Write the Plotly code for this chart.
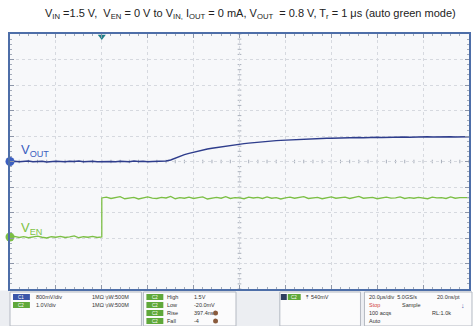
import plotly.graph_objects as go

# ---------------- data (oscilloscope divisions) ----------------
time_div = [round(i * 0.1, 1) for i in range(101)]  # sample instants, 10 horizontal divisions

vout_level = [
    5.00, 5.01, 4.99, 5.00, 5.02, 4.99, 5.00, 5.01, 4.98, 5.00,
    5.01, 5.00, 4.99, 5.01, 5.00, 5.02, 4.99, 5.00, 5.01, 4.99,
    5.00, 5.01, 5.00, 4.99, 5.01, 5.00, 4.99, 5.02, 5.00, 5.01,
    4.99, 5.00, 5.01, 5.00, 5.02, 5.06, 5.14, 5.21, 5.27, 5.32,
    5.37, 5.41, 5.45, 5.49, 5.52, 5.55, 5.58, 5.61, 5.63, 5.66,
    5.68, 5.70, 5.72, 5.74, 5.76, 5.77, 5.79, 5.80, 5.82, 5.83,
    5.84, 5.85, 5.86, 5.87, 5.87, 5.88, 5.89, 5.89, 5.90, 5.91,
    5.91, 5.92, 5.92, 5.93, 5.92, 5.93, 5.94, 5.93, 5.94, 5.94,
    5.95, 5.94, 5.95, 5.95, 5.96, 5.95, 5.96, 5.95, 5.96, 5.96,
    5.96, 5.97, 5.96, 5.97, 5.96, 5.97, 5.97, 5.96, 5.97, 5.97, 5.97,
]

en_low = [
    2.04, 2.06, 2.02, 2.05, 2.01, 2.04, 2.07, 2.03, 2.00, 2.05,
    2.03, 2.06, 2.02, 2.04, 2.08, 2.01, 2.05, 2.03, 2.06, 2.02, 2.04,
]
en_high = [
    3.57, 3.60, 3.55, 3.58, 3.62, 3.54, 3.57, 3.59, 3.53, 3.58,
    3.61, 3.56, 3.55, 3.59, 3.57, 3.63, 3.54, 3.58, 3.56, 3.60,
    3.55, 3.58, 3.61, 3.53, 3.57, 3.59, 3.56, 3.62, 3.55, 3.58,
    3.57, 3.54, 3.60, 3.57, 3.59, 3.55, 3.61, 3.56, 3.58, 3.53,
    3.57, 3.60, 3.56, 3.58, 3.62, 3.55, 3.57, 3.59, 3.54, 3.58,
    3.61, 3.56, 3.57, 3.60, 3.55, 3.58, 3.63, 3.56, 3.57, 3.59,
    3.54, 3.58, 3.60, 3.56, 3.57, 3.61, 3.55, 3.58, 3.56, 3.59,
    3.57, 3.54, 3.60, 3.57, 3.58, 3.55, 3.61, 3.56, 3.58, 3.57,
    3.58,
]
en_time = time_div[:21] + time_div[20:]
en_level = en_low + en_high

trigger_time = 2.0
vout_ref = 5.0
en_ref = 2.04

title_text = ("V<sub>IN</sub> =1.5 V,  V<sub>EN</sub> = 0 V to V<sub>IN,</sub> "
              "I<sub>OUT</sub> = 0 mA, V<sub>OUT</sub>  = 0.8 V, T<sub>r</sub> = 1 μs (auto green mode)")

# ---------------- figure ----------------
W, H = 474, 326
L, R, T, B = 10, 471, 34, 289
BLUE = "#2e3d8c"
BLUE_LBL = "#3c5fc0"
GREEN = "#7cbf45"
GREEN_LBL = "#7dc242"


def px(x):
    return (x - L) / (R - L)


def py(y):
    return (B - y) / (B - T)


fig = go.Figure()

fig.add_trace(go.Scatter(x=time_div, y=vout_level, mode="lines",
                         line=dict(color=BLUE, width=1.4), hoverinfo="skip"))
fig.add_trace(go.Scatter(x=en_time, y=en_level, mode="lines",
                         line=dict(color=GREEN, width=1.3), hoverinfo="skip"))

# channel reference markers on the left edge
fig.add_trace(go.Scatter(x=[0, 0], y=[vout_ref, en_ref], mode="markers",
                         marker=dict(color=[BLUE_LBL, GREEN], size=9),
                         cliponaxis=False, hoverinfo="skip"))
# trigger marker on top edge
fig.add_trace(go.Scatter(x=[trigger_time], y=[9.9], mode="markers",
                         marker=dict(color="#1e7f88", size=7, symbol="triangle-down"),
                         cliponaxis=False, hoverinfo="skip"))

shapes = []
# centre cross with fine ticks
shapes.append(dict(type="line", xref="x", yref="y", x0=5, x1=5, y0=0, y1=10,
                   line=dict(color="#c4c9d2", width=1, dash="dot"), layer="below"))
shapes.append(dict(type="line", xref="x", yref="y", x0=0, x1=10, y0=5, y1=5,
                   line=dict(color="#c4c9d2", width=1, dash="dot"), layer="below"))
for i in range(51):
    v = i * 0.2
    shapes.append(dict(type="line", xref="x", yref="y", x0=4.96, x1=5.04, y0=v, y1=v,
                       line=dict(color="#a8afbb", width=1), layer="below"))
    shapes.append(dict(type="line", xref="x", yref="y", x0=v, x1=v, y0=4.93, y1=5.07,
                       line=dict(color="#a8afbb", width=1), layer="below"))

# bottom status panel
shapes.append(dict(type="rect", xref="paper", yref="paper", x0=px(0), x1=px(W),
                   y0=py(326), y1=py(290.5), fillcolor="#eceef2", line=dict(width=0), layer="below"))
boxes = [(10, 142), (144, 237), (281, 362), (366, 474)]
for x0, x1 in boxes:
    shapes.append(dict(type="rect", xref="paper", yref="paper", x0=px(x0), x1=px(x1),
                       y0=py(326), y1=py(292), fillcolor="#fbfbfc",
                       line=dict(color="#b4b9c2", width=1), layer="below"))

annotations = []


def txt(x, y, s, color="#333", size=5.5):
    annotations.append(dict(xref="paper", yref="paper", x=px(x), y=py(y), text=s,
                            showarrow=False, xanchor="left", yanchor="middle",
                            font=dict(size=size, color=color, family="Liberation Sans")))


def badge(x, y, color, label, w=17):
    shapes.append(dict(type="rect", xref="paper", yref="paper", x0=px(x), x1=px(x + w),
                       y0=py(y + 3), y1=py(y - 3), fillcolor=color, line=dict(width=0)))
    if label:
        annotations.append(dict(xref="paper", yref="paper", x=px(x + w / 2), y=py(y), text=label,
                                showarrow=False, xanchor="center", yanchor="middle",
                                font=dict(size=4.5, color="white", family="Liberation Sans")))


badge(13, 297, "#3b56a8", "C1")
txt(34, 297, "800mV/div")
txt(90, 297, "1MΩ ⁱᵦW:500M")
badge(13, 305, "#5fa83a", "C2")
txt(34, 305, "1.0V/div")
txt(90, 305, "1MΩ ⁱᵦW:500M")

for i, (name, val) in enumerate([("High", "1.5V"), ("Low", "-20.0mV"), ("Rise", "397.4ns"), ("Fall", "-4")]):
    y = 297 + i * 8.0
    badge(147, y, "#5fa83a", "C2")
    txt(166, y, name)
    txt(193, y, val)
for y in (313, 321):
    shapes.append(dict(type="circle", xref="paper", yref="paper", x0=px(214), x1=px(219),
                       y0=py(y + 2.5), y1=py(y - 2.5), fillcolor="#8a5a3c", line=dict(width=0)))

badge(282, 297, "#2f3f5f", "", w=6)
badge(289, 297, "#5fa83a", "C2", w=13)
txt(305, 297, "⤒  540mV")

txt(369, 297, "20.0μs/div  5.0GS/s")
txt(437, 297, "20.0ns/pt")
txt(369, 305, "Stop", color="#d04040")
txt(402, 305, "Sample")
txt(461, 305, "↓", color="#3b56a8", size=7)
txt(369, 313, "100 acqs")
txt(432, 313, "RL:1.0k")
txt(369, 321, "Auto")

# channel labels
annotations.append(dict(xref="paper", yref="paper", x=px(19), y=py(150), text="V<sub>OUT</sub>",
                        showarrow=False, xanchor="left", yanchor="middle",
                        font=dict(size=13, color=BLUE_LBL, family="Liberation Sans")))
annotations.append(dict(xref="paper", yref="paper", x=px(19), y=py(228), text="V<sub>EN</sub>",
                        showarrow=False, xanchor="left", yanchor="middle",
                        font=dict(size=13, color=GREEN_LBL, family="Liberation Sans")))
# title
annotations.append(dict(xref="paper", yref="paper", x=px(252), y=py(14), text=title_text,
                        showarrow=False, xanchor="center", yanchor="middle",
                        font=dict(size=11, color="#222", family="Liberation Sans")))

axis_common = dict(showticklabels=False, showgrid=True, gridcolor="#d6d9df", griddash="dot",
                   gridwidth=1, zeroline=False, dtick=1, ticks="inside", ticklen=4,
                   tickcolor="#8d96a8", mirror="ticks", showline=True, linecolor="#4d6ea8",
                   linewidth=1.5, fixedrange=True,
                   minor=dict(dtick=0.2, ticks="inside", ticklen=2, tickcolor="#a3abb9", showgrid=False))

fig.update_layout(
    width=W, height=H,
    margin=dict(l=L, r=W - R, t=T, b=H - B),
    paper_bgcolor="white", plot_bgcolor="#f7f8fa",
    showlegend=False,
    xaxis=dict(range=[0, 10], **axis_common),
    yaxis=dict(range=[0, 10], **axis_common),
    shapes=shapes, annotations=annotations,
)

fig.write_html("out.html", config={"displayModeBar": False},
               post_script="document.body.style.margin='0';document.body.style.padding='0';")
